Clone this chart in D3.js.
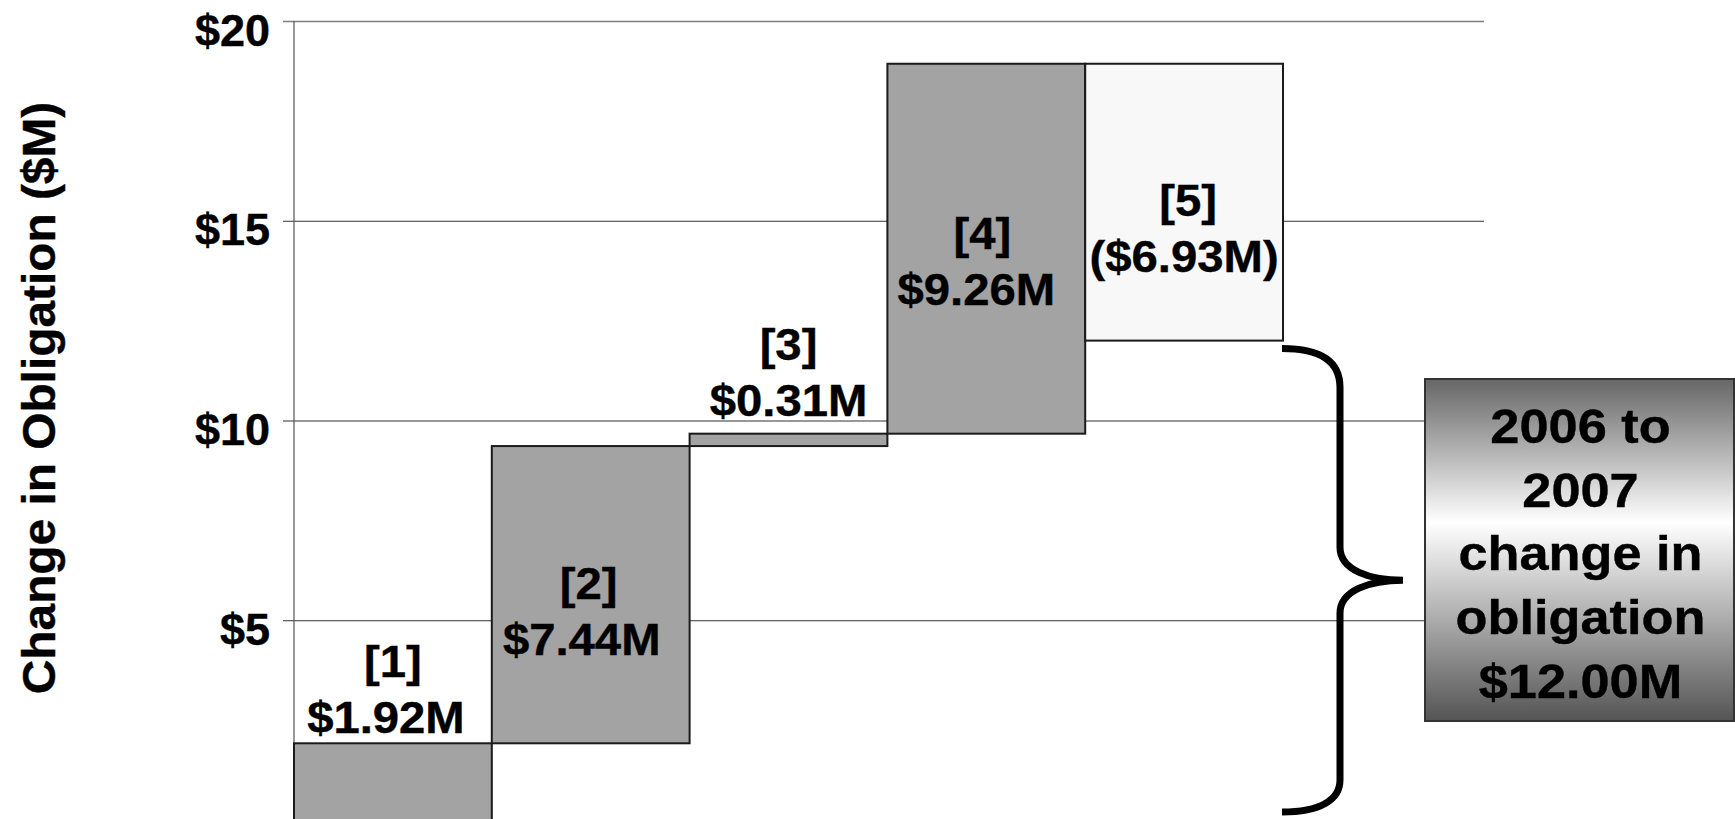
<!DOCTYPE html>
<html>
<head>
<meta charset="utf-8">
<script src="https://cdn.jsdelivr.net/npm/d3@7/dist/d3.min.js"></script>
<style>
  html, body { margin: 0; padding: 0; background: #fff; }
  svg { display: block; }
  text { font-family: "Liberation Sans", Arial, Helvetica, sans-serif; font-weight: bold; fill: #000; }
</style>
</head>
<body>
<svg id="chart" width="1735" height="819"></svg>
<script>
// ---- data ----
const categories = ["[1]", "[2]", "[3]", "[4]", "[5]"];
const changes = [1.92, 7.44, 0.31, 9.26, -6.93];
const valueLabels = ["$1.92M", "$7.44M", "$0.31M", "$9.26M", "($6.93M)"];
const yTickValues = [5, 10, 15, 20];
const yTickLabels = ["$5", "$10", "$15", "$20"];
const yTitle = "Change in Obligation ($M)";
const totalChange = 12.00;
const totalLines = ["2006 to", "2007", "change in", "obligation", "$12.00M"];

// ---- layout ----
const W = 1735, H = 819;
const axisX = 294, gridRight = 1484, barsRight = 1283;
const svg = d3.select("#chart");

const y = d3.scaleLinear().domain([0, 20]).range([820, 21]);
const x = d3.scaleBand().domain(categories).range([axisX, barsRight]).padding(0);

// cumulative waterfall
let run = 0;
const bars = categories.map((c, i) => {
  const start = run;
  run += changes[i];
  return { cat: c, start, end: run, change: changes[i], label: valueLabels[i], i };
});

// ---- gridlines + tick labels via axis ----
const tickLeft = axisX - 11;
const axis = d3.axisLeft(y)
  .tickValues(yTickValues)
  .tickFormat((d, i) => yTickLabels[i])
  .tickSize(-(gridRight - tickLeft))
  .tickPadding(13);

const gAxis = svg.append("g")
  .attr("transform", `translate(${tickLeft},0)`)
  .call(axis);
gAxis.select(".domain").remove();
gAxis.selectAll(".tick line")
  .attr("stroke", d => d === 20 ? "#808080" : "#333")
  .attr("stroke-width", d => d === 20 ? 1.6 : 1.1);
gAxis.selectAll(".tick text")
  .attr("font-size", 45)
  .attr("font-family", "'Liberation Sans', Arial, sans-serif")
  .attr("font-weight", "bold")
  .attr("fill", "#000")
  .attr("stroke", "#000").attr("stroke-width", 0.4)
  .attr("dy", null)
  .attr("y", 24);

// vertical axis line
svg.append("line")
  .attr("x1", axisX).attr("x2", axisX)
  .attr("y1", y(20)).attr("y2", H + 5)
  .attr("stroke", "#555").attr("stroke-width", 1.2);

// ---- bars ----
svg.append("g").selectAll("rect")
  .data(bars)
  .join("rect")
  .attr("x", d => x(d.cat))
  .attr("width", x.bandwidth())
  .attr("y", d => y(Math.max(d.start, d.end)))
  .attr("height", d => Math.abs(y(d.start) - y(d.end)))
  .attr("fill", d => d.change < 0 ? "#f8f8f8" : "#a3a3a3")
  .attr("stroke", "#1a1a1a")
  .attr("stroke-width", 2);

// ---- bar labels ----
const labelMode = ["above", "inside", "above", "inside", "inside"];
const labelGap = [10, 0, 18, 0, 0];
const insideShift = [0, 4, 0, 0, 14];
const idxDx = [0, -2, 0, -4, 4];
const valDx = [-7, -9, 0, -10, 0];
const lineGap = 56;
const labelSize = 45, labelSx = 1.05;
const gLabels = svg.append("g");
function stretchedText(g, cx, by, size, sx, str) {
  return g.append("text")
    .attr("transform", `translate(${cx},${by}) scale(${sx},1)`)
    .attr("text-anchor", "middle")
    .attr("font-size", size)
    .attr("stroke", "#000").attr("stroke-width", 0.4)
    .text(str);
}
bars.forEach((d, i) => {
  const cx = x(d.cat) + x.bandwidth() / 2;
  const top = y(Math.max(d.start, d.end));
  const bot = y(Math.min(d.start, d.end));
  let b1, b2;
  if (labelMode[i] === "above") {
    b2 = top - labelGap[i];
    b1 = b2 - lineGap;
  } else {
    const mid = (top + bot) / 2;
    b1 = mid + insideShift[i];
    b2 = b1 + lineGap;
  }
  stretchedText(gLabels, cx + idxDx[i], b1, labelSize, labelSx, d.cat);
  stretchedText(gLabels, cx + valDx[i], b2, labelSize, labelSx, d.label);
});

// ---- y title ----
svg.append("text")
  .attr("transform", `translate(55, 398) rotate(-90) scale(1.04,1)`)
  .attr("text-anchor", "middle")
  .attr("font-size", 46)
  .attr("stroke", "#000").attr("stroke-width", 0.4)
  .text(yTitle);

// ---- brace spanning the total change (0 to total) ----
const bTop = y(totalChange) + 8, bBot = y(0) - 8;
const bMid = (bTop + bBot) / 2;
const xL = barsRight - 1, xS = xL + 58, xT = xL + 121;
const brace = d3.path();
brace.moveTo(xL, bTop);
brace.bezierCurveTo(xL + 38, bTop, xS, bTop + 12, xS, bTop + 39);
brace.lineTo(xS, bMid - 33);
brace.bezierCurveTo(xS, bMid - 10, xS + 30, bMid, xT, bMid);
brace.bezierCurveTo(xS + 30, bMid, xS, bMid + 10, xS, bMid + 33);
brace.lineTo(xS, bBot - 32);
brace.bezierCurveTo(xS, bBot - 12, xS - 20, bBot, xL, bBot);
svg.append("path")
  .attr("d", brace.toString())
  .attr("fill", "none")
  .attr("stroke", "#000")
  .attr("stroke-width", 7);

// ---- total box ----
const defs = svg.append("defs");
const grad = defs.append("linearGradient")
  .attr("id", "boxGrad").attr("x1", 0).attr("y1", 0).attr("x2", 0).attr("y2", 1);
grad.append("stop").attr("offset", "0%").attr("stop-color", "#666666");
grad.append("stop").attr("offset", "42%").attr("stop-color", "#ffffff");
grad.append("stop").attr("offset", "100%").attr("stop-color", "#545454");

const boxX = 1425, boxY = 379, boxW = 309, boxH = 342;
svg.append("rect")
  .attr("x", boxX).attr("y", boxY).attr("width", boxW).attr("height", boxH)
  .attr("fill", "url(#boxGrad)")
  .attr("stroke", "#333").attr("stroke-width", 2);

const gBox = svg.append("g");
totalLines.forEach((t, i) => {
  stretchedText(gBox, boxX + boxW / 2 + 1, 443 + i * 63.7, 48, 1.09, t);
});
</script>
</body>
</html>
